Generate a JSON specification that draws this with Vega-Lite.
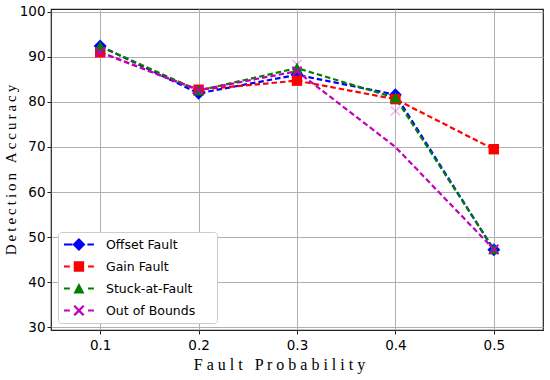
{
  "$schema": "https://vega.github.io/schema/vega-lite/v6.json",
  "width": 492,
  "height": 321,
  "autosize": "none",
  "padding": {"left": 51, "top": 9, "right": 7, "bottom": 50},
  "background": "white",
  "config": {
    "view": {"stroke": "#222222", "strokeWidth": 1.2},
    "axis": {
      "gridColor": "#b0b0b0", "gridWidth": 1, "gridOpacity": 1,
      "domain": false, "tickColor": "#222", "tickSize": 4,
      "labelFont": "DejaVu Sans", "labelFontSize": 13.5, "labelColor": "#000",
      "titleFont": "Liberation Serif", "titleFontSize": 16, "titleFontWeight": "normal", "titleColor": "#000"
    }
  },
  "datasets": {
    "ghost": [
      {"p": 0.4, "acc": 78.0, "series": "Out of Bounds"},
      {"p": 0.3, "acc": 88.3, "series": "Out of Bounds"}
    ]
  },
  "data": {"values": [
    {"p": 0.1, "acc": 92.4, "series": "Offset Fault"},
    {"p": 0.2, "acc": 81.9, "series": "Offset Fault"},
    {"p": 0.3, "acc": 86.0, "series": "Offset Fault"},
    {"p": 0.4, "acc": 81.6, "series": "Offset Fault"},
    {"p": 0.5, "acc": 47.2, "series": "Offset Fault"},
    {"p": 0.1, "acc": 91.0, "series": "Gain Fault"},
    {"p": 0.2, "acc": 82.7, "series": "Gain Fault"},
    {"p": 0.3, "acc": 84.7, "series": "Gain Fault"},
    {"p": 0.4, "acc": 80.6, "series": "Gain Fault"},
    {"p": 0.5, "acc": 69.5, "series": "Gain Fault"},
    {"p": 0.1, "acc": 92.3, "series": "Stuck-at-Fault"},
    {"p": 0.2, "acc": 82.5, "series": "Stuck-at-Fault"},
    {"p": 0.3, "acc": 87.5, "series": "Stuck-at-Fault"},
    {"p": 0.4, "acc": 80.9, "series": "Stuck-at-Fault"},
    {"p": 0.5, "acc": 47.3, "series": "Stuck-at-Fault"},
    {"p": 0.1, "acc": 91.0, "series": "Out of Bounds"},
    {"p": 0.2, "acc": 82.6, "series": "Out of Bounds"},
    {"p": 0.3, "acc": 86.8, "series": "Out of Bounds"},
    {"p": 0.4, "acc": 70.0, "series": "Out of Bounds"},
    {"p": 0.5, "acc": 47.3, "series": "Out of Bounds"}
  ]},
  "encoding": {
    "x": {"field": "p", "type": "quantitative",
      "scale": {"domain": [0.05, 0.55], "nice": false, "zero": false},
      "axis": {"values": [0.1, 0.2, 0.3, 0.4, 0.5], "format": ".1f", "title": "F a u l t \u00a0 P r o b a b i l i t y", "titlePadding": 5, "labelPadding": 4, "titleX": 228}},
    "y": {"field": "acc", "type": "quantitative",
      "scale": {"domain": [29.4, 100.6], "nice": false, "zero": false},
      "axis": {"values": [30, 40, 50, 60, 70, 80, 90, 100], "title": "D\u2009e\u2009t\u2009e\u2009c\u2009t\u2009i\u2009o\u2009n\u2009 \u2009A\u2009c\u2009c\u2009u\u2009r\u2009a\u2009c\u2009y", "titleFontSize": 15, "titlePadding": 1, "labelPadding": 2}},
    "color": {"field": "series", "type": "nominal",
      "sort": ["Offset Fault", "Gain Fault", "Stuck-at-Fault", "Out of Bounds"],
      "scale": {"domain": ["Offset Fault", "Gain Fault", "Stuck-at-Fault", "Out of Bounds"], "range": ["#0000ff", "#ff0000", "#008000", "#bf00bf"]},
      "legend": {"title": null, "orient": "bottom-left", "offset": 7,
        "fillColor": "white", "strokeColor": "#cccccc", "cornerRadius": 3, "padding": 6,
        "labelFont": "DejaVu Sans", "labelFontSize": 12.5, "labelColor": "#000",
        "symbolSize": 169, "rowPadding": 9, "symbolOpacity": 1, "labelOffset": 29,
        "encode": {"symbols": {"update": {
          "shape": {"signal": "(datum.value === 'Offset Fault' ? 'M-1,-0.17H0.3V0.17H-1Z M1.3,-1L2.3,0L1.3,1L0.3,0Z M2.6,-0.17H3.6V0.17H2.6Z' : datum.value === 'Gain Fault' ? 'M-1,-0.17H-0.1V0.17H-1Z M0.5,-0.8H2.1V0.8H0.5Z M2.7,-0.17H3.6V0.17H2.7Z' : datum.value === 'Stuck-at-Fault' ? 'M-1,-0.17H-0.1V0.17H-1Z M1.3,-0.85L2.15,0.75H0.45Z M2.7,-0.17H3.6V0.17H2.7Z' : 'M-1,-0.17H-0.1V0.17H-1Z M0.45,-0.6L0.7,-0.85L1.3,-0.25L1.9,-0.85L2.15,-0.6L1.55,0L2.15,0.6L1.9,0.85L1.3,0.25L0.7,0.85L0.45,0.6L1.05,0Z M2.7,-0.17H3.6V0.17H2.7Z') + ' M21.6,0L21.6,0Z'"},
          "fill": {"signal": "scale('color', datum.value)"},
          "stroke": {"value": "transparent"},
          "strokeWidth": {"value": 0},
          "opacity": {"value": 1}
        }}}}
    }
  },
  "layer": [
    {"mark": {"type": "line", "strokeWidth": 2.2, "strokeDash": [5.5, 3]},
     "encoding": {"detail": {"field": "series"}}},
    {"data": {"name": "ghost"},
     "mark": {"type": "point", "filled": true, "opacity": 0.3, "size": 169, "shape": "M-0.8,-0.65L-0.65,-0.8L0,-0.15L0.65,-0.8L0.8,-0.65L0.15,0L0.8,0.65L0.65,0.8L0,0.15L-0.65,0.8L-0.8,0.65L-0.15,0Z"}},
    {"mark": {"type": "point", "filled": true, "opacity": 1, "size": 169, "shape": "M0,-1L1,0L0,1L-1,0Z"},
     "transform": [{"filter": "datum.series === 'Offset Fault'"}]},
    {"mark": {"type": "point", "filled": true, "opacity": 1, "size": 169, "shape": "M-0.8,-0.8H0.8V0.8H-0.8Z"},
     "transform": [{"filter": "datum.series === 'Gain Fault'"}]},
    {"mark": {"type": "point", "filled": true, "opacity": 1, "size": 169, "shape": "M0,-0.85L0.85,0.75L-0.85,0.75Z"},
     "transform": [{"filter": "datum.series === 'Stuck-at-Fault'"}]},
    {"mark": {"type": "point", "filled": true, "opacity": 1, "size": 169, "shape": "M-0.8,-0.6L-0.6,-0.8L0,-0.2L0.6,-0.8L0.8,-0.6L0.2,0L0.8,0.6L0.6,0.8L0,0.2L-0.6,0.8L-0.8,0.6L-0.2,0Z"},
     "transform": [{"filter": "datum.series === 'Out of Bounds' && datum.p !== 0.4"}]}
  ]
}
